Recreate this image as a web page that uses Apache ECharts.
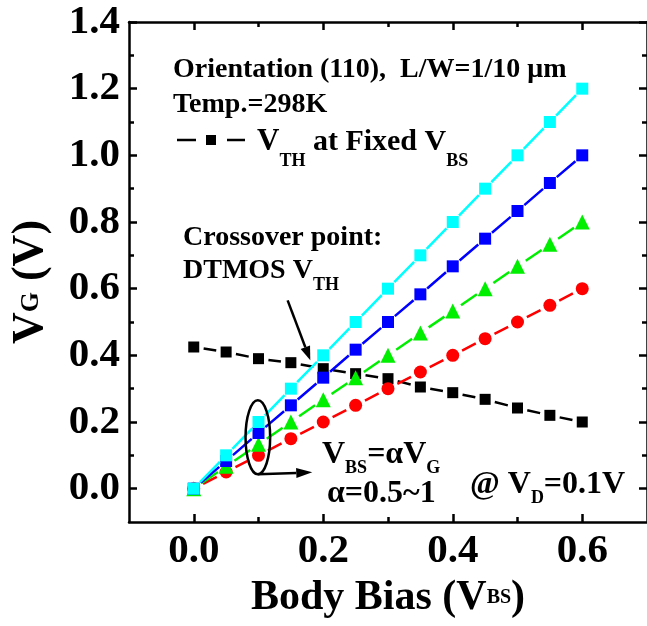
<!DOCTYPE html>
<html><head><meta charset="utf-8">
<script src="https://cdn.jsdelivr.net/npm/echarts@6/dist/echarts.min.js"></script>
<style>html,body{margin:0;padding:0;background:#fff}#c{width:647px;height:626px}</style>
</head><body><div id="c"></div>
<script>
// ---- data ----
const vbs        = [0, 0.05, 0.1, 0.15, 0.2, 0.25, 0.3, 0.35, 0.4, 0.45, 0.5, 0.55, 0.6];
const vthFixed   = [0.425, 0.41, 0.39, 0.378, 0.36, 0.345, 0.33, 0.305, 0.288, 0.268, 0.242, 0.22, 0.2];
const vgAlpha05  = [0, 0.1, 0.2, 0.3, 0.4, 0.5, 0.6, 0.7, 0.8, 0.9, 1.0, 1.1, 1.2];
const vgAlpha06  = [0, 0.083, 0.167, 0.25, 0.333, 0.417, 0.5, 0.583, 0.667, 0.75, 0.833, 0.917, 1.0];
const vgAlpha075 = [0, 0.067, 0.133, 0.2, 0.267, 0.333, 0.4, 0.467, 0.533, 0.6, 0.667, 0.733, 0.8];
const vgAlpha1   = [0, 0.05, 0.1, 0.15, 0.2, 0.25, 0.3, 0.35, 0.4, 0.45, 0.5, 0.55, 0.6];
const xTickLabels = [0, 0.2, 0.4, 0.6];
const xMinorTicks = [0.1, 0.3, 0.5];
const yTickLabels = [0, 0.2, 0.4, 0.6, 0.8, 1.0, 1.2, 1.4];
const yMinorTicks = [0.1, 0.3, 0.5, 0.7, 0.9, 1.1, 1.3];

const FONT = '"Liberation Serif","Times New Roman",serif';
const pairs = ys => vbs.map((x, i) => [x, ys[i]]);

const chart = echarts.init(document.getElementById('c'), null, {renderer: 'canvas'});

function xAx(pos, ticks, len, labels, showLine) {
  return {
    type: 'value', position: pos, min: -0.1, max: 0.7, gridIndex: 0,
    axisLine: {show: showLine, onZero: false, lineStyle: {color: '#000', width: 2.5}},
    axisTick: {show: true, inside: true, length: len, customValues: ticks, lineStyle: {color: '#000', width: 2.5}},
    axisLabel: labels ? {show: true, customValues: ticks, margin: 9, formatter: v => v.toFixed(1),
      fontFamily: FONT, fontWeight: 'bold', fontSize: 41, color: '#000'} : {show: false},
    splitLine: {show: false}
  };
}
function yAx(pos, ticks, len, labels, showLine) {
  return {
    type: 'value', position: pos, min: -0.1, max: 1.4, gridIndex: 0,
    axisLine: {show: showLine, onZero: false, lineStyle: {color: '#000', width: 2.5}},
    axisTick: {show: true, inside: true, length: len, customValues: ticks, lineStyle: {color: '#000', width: 2.5}},
    axisLabel: labels ? {show: true, customValues: ticks, margin: 9, formatter: v => v.toFixed(1),
      fontFamily: FONT, fontWeight: 'bold', fontSize: 41, color: '#000'} : {show: false},
    splitLine: {show: false}
  };
}

const xMain = xAx('bottom', xTickLabels, 8, true, true);
xMain.name = '{v|Body Bias (V}{s|BS}{v|)}';
xMain.nameLocation = 'middle';
xMain.nameGap = 54;
xMain.nameTextStyle = {rich: {
  v: {fontFamily: FONT, fontWeight: 'bold', fontSize: 42, color: '#000'},
  s: {fontFamily: FONT, fontWeight: 'bold', fontSize: 20, color: '#000'}
}};
const yMain = yAx('left', yTickLabels, 8, true, true);
yMain.name = '{v|V}{g|G}{v| (V)}';
yMain.nameLocation = 'middle';
yMain.nameGap = 76;
yMain.nameTextStyle = {padding: [0, 20, 0, 0], rich: {
  v: {fontFamily: FONT, fontWeight: 'bold', fontSize: 44, color: '#000'},
  g: {fontFamily: FONT, fontWeight: 'bold', fontSize: 26, color: '#000'}
}};

function lineSeries(name, ys, color, symbol, size, z) {
  return {
    name, type: 'line', xAxisIndex: 0, yAxisIndex: 0, data: pairs(ys),
    symbol, symbolSize: size, showSymbol: true, z,
    lineStyle: {color, width: 2.5},
    itemStyle: {color, borderWidth: 0},
    emphasis: {disabled: true}, animation: false
  };
}

const seriesDefs = [
  ['VTH fixed', vthFixed, '#000000', 'rect', 11, 2, 10],
  ['alpha=1', vgAlpha1, '#ff0000', 'circle', 13, 3, 10.5],
  ['alpha=0.75', vgAlpha075, '#00ee00', 'triangle', 15, 4, 10],
  ['alpha=0.6', vgAlpha06, '#0000ff', 'rect', 12, 5, 9],
  ['alpha=0.5', vgAlpha05, '#00ffff', 'rect', 12, 6, 9]
];

chart.setOption({
  animation: false,
  grid: {left: 129, right: -5, top: 22, bottom: 104, containLabel: false},
  xAxis: [
    xMain,
    xAx('bottom', xMinorTicks, 5, false, false),
    xAx('top', xTickLabels, 8, false, true),
    xAx('top', xMinorTicks, 5, false, false)
  ],
  yAxis: [
    yMain,
    yAx('left', yMinorTicks, 5, false, false),
    yAx('right', yTickLabels, 8, false, true),
    yAx('right', yMinorTicks, 5, false, false)
  ],
  series: seriesDefs.map(d => lineSeries(d[0], d[1], d[2], d[3], d[4], d[5]))
});

const P = (x, y) => chart.convertToPixel({xAxisIndex: 0, yAxisIndex: 0}, [x, y]);

// "line with gaps" style: leave a gap around every symbol, measured on the library's own pixel scale
function gapDash(ys, g) {
  const pts = vbs.map((x, i) => P(x, ys[i]));
  const arr = [0, g];
  for (let i = 0; i < pts.length - 1; i++) {
    const L = Math.hypot(pts[i + 1][0] - pts[i][0], pts[i + 1][1] - pts[i][1]);
    arr.push(Math.max(L - 2 * g, 0.1), i === pts.length - 2 ? g : 2 * g);
  }
  return arr;
}
chart.setOption({series: seriesDefs.map(d => ({lineStyle: {type: gapDash(d[1], d[6])}}))});

// ---- annotations ----
const mctx = document.createElement('canvas').getContext('2d');
function baseOffset(size) {
  mctx.font = `bold ${size}px ${FONT}`;
  mctx.textBaseline = 'middle';
  return mctx.measureText('H').actualBoundingBoxDescent;
}
function seq(x, base, parts) {
  const els = [];
  let cx = x;
  for (const [t, s, dy] of parts) {
    const font = `bold ${s}px ${FONT}`;
    mctx.font = font;
    mctx.textBaseline = 'alphabetic';
    const w = mctx.measureText(t).width;
    const off = baseOffset(s);
    els.push({type: 'text', x: cx, y: base + (dy || 0) - off, z: 100,
      style: {text: t, font, fill: '#000', align: 'left', verticalAlign: 'middle', textAlign: 'left', textVerticalAlign: 'middle'}});
    cx += w;
  }
  return els;
}

function arrow(p0, p1, headLen, headW) {
  const dx = p1[0] - p0[0], dy = p1[1] - p0[1];
  const L = Math.hypot(dx, dy), ux = dx / L, uy = dy / L;
  const bx = p1[0] - ux * headLen, by = p1[1] - uy * headLen;
  return [
    {type: 'line', z: 100, shape: {x1: p0[0], y1: p0[1], x2: bx, y2: by}, style: {stroke: '#000', lineWidth: 2.5}},
    {type: 'polygon', z: 100, shape: {points: [[p1[0], p1[1]], [bx - uy * headW, by + ux * headW], [bx + uy * headW, by - ux * headW]]}, style: {fill: '#000'}}
  ];
}

// annotation anchor points in data units
const arrow1From = [0.145, 0.565], arrow1To = [0.18, 0.385];
const ellipseC = [0.099, 0.154], ellipseRx = 0.019, ellipseRy = 0.111;
const arrow2From = [0.099, 0.043], arrow2To = [0.183, 0.049];

const ec = P(ellipseC[0], ellipseC[1]);
const erx = P(ellipseC[0] + ellipseRx, 0)[0] - ec[0];
const ery = ec[1] - P(0, ellipseC[1] + ellipseRy)[1];

const g = [];
g.push(...seq(173, 77, [['Orientation (110),  L/W=1/10 \u03bcm', 28, 0]]));
g.push(...seq(173, 112, [['Temp.=298K', 28, 0]]));
// legend sample
g.push({type: 'line', z: 100, shape: {x1: 177, y1: 140, x2: 196, y2: 140}, style: {stroke: '#000', lineWidth: 2.5}});
g.push({type: 'line', z: 100, shape: {x1: 227, y1: 140, x2: 245, y2: 140}, style: {stroke: '#000', lineWidth: 2.5}});
g.push({type: 'rect', z: 100, shape: {x: 206, y: 135, width: 10, height: 10}, style: {fill: '#000'}});
g.push(...seq(257, 150, [['V', 31, 0], ['TH', 18, 16], [' at Fixed V', 30, 0], ['BS', 18, 16]]));
g.push(...seq(183, 245, [['Crossover point:', 28, 0]]));
g.push(...seq(183, 278, [['DTMOS V', 28, 0], ['TH', 18, 12]]));
g.push(...seq(322, 463, [['V', 32, 0], ['BS', 18, 10], ['=\u03b1V', 32, 0], ['G', 18, 10]]));
g.push(...seq(327, 502, [['\u03b1=0.5~1', 32, 0]]));
g.push(...seq(470, 493, [['@ V', 32, 0], ['D', 18, 10], ['=0.1V', 32, 0]]));
g.push(...arrow(P(...arrow1From), P(...arrow1To), 14, 5));
g.push({type: 'ellipse', z: 100, shape: {cx: ec[0], cy: ec[1], rx: erx, ry: ery}, style: {fill: 'none', stroke: '#000', lineWidth: 2.5}});
g.push(...arrow(P(...arrow2From), P(...arrow2To), 16, 5));

chart.setOption({graphic: {elements: g}});
</script>
</body></html>
